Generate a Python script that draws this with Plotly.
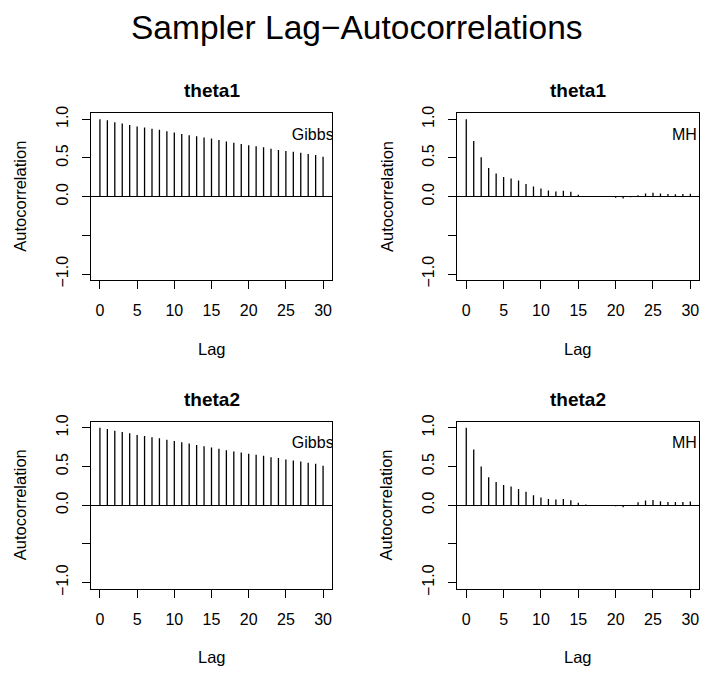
import plotly.graph_objects as go

lags = list(range(31))

gibbs_theta1 = [1.0, 0.987, 0.962, 0.944, 0.927, 0.906, 0.893, 0.879, 0.863, 0.846,
                0.830, 0.811, 0.795, 0.780, 0.765, 0.750, 0.731, 0.714, 0.697, 0.680,
                0.663, 0.650, 0.637, 0.620, 0.604, 0.590, 0.580, 0.567, 0.550, 0.537, 0.517]
mh_theta1 = [1.0, 0.72, 0.51, 0.37, 0.30, 0.255, 0.235, 0.21, 0.165, 0.13,
             0.105, 0.08, 0.068, 0.076, 0.064, 0.025, 0.004, 0.002, 0.0, -0.005,
             -0.015, -0.025, -0.008, 0.017, 0.042, 0.05, 0.042, 0.034, 0.03, 0.034, 0.038]
gibbs_theta2 = [1.0, 0.983, 0.962, 0.945, 0.928, 0.906, 0.894, 0.877, 0.864, 0.847,
                0.830, 0.813, 0.796, 0.779, 0.762, 0.745, 0.728, 0.711, 0.694, 0.681,
                0.664, 0.651, 0.638, 0.621, 0.609, 0.591, 0.579, 0.566, 0.549, 0.536, 0.511]
mh_theta2 = [1.0, 0.72, 0.50, 0.36, 0.30, 0.26, 0.24, 0.21, 0.175, 0.127,
             0.098, 0.08, 0.072, 0.08, 0.064, 0.03, 0.008, 0.004, 0.0, -0.004,
             -0.013, -0.025, -0.008, 0.038, 0.06, 0.068, 0.05, 0.042, 0.042, 0.042, 0.047]

panel_titles = ["theta1", "theta1", "theta2", "theta2"]
panel_labels = ["Gibbs", "MH", "Gibbs", "MH"]
panel_series = [gibbs_theta1, mh_theta1, gibbs_theta2, mh_theta2]
label_pos = [(25.8, 0.79), (27.55, 0.79), (25.8, 0.79), (27.55, 0.79)]
main_title = "Sampler Lag\u2212Autocorrelations"
x_ticks = [0, 5, 10, 15, 20, 25, 30]
y_ticks = [-1.0, -0.5, 0.0, 0.5, 1.0]
y_ticktext = ["\u22121.0", "", "0.0", "0.5", "1.0"]

W, H = 702, 681
FONT = "Liberation Sans, Arial, Helvetica, sans-serif"

# panel boxes in pixels (left, right, top, bottom)
boxes = [(91, 332, 108.3, 279), (457.3, 699.3, 108.3, 279),
         (91, 332, 423.3, 594), (457.3, 699.3, 423.3, 594)]

fig = go.Figure()
annotations = []
for i, (series, box) in enumerate(zip(panel_series, boxes)):
    n = i + 1
    xa = "x" if n == 1 else f"x{n}"
    ya = "y" if n == 1 else f"y{n}"
    xs, ys = [], []
    for lag, v in zip(lags, series):
        xs += [lag, lag, None]
        ys += [0, v, None]
    fig.add_trace(go.Scatter(x=xs, y=ys, mode="lines", xaxis=xa, yaxis=ya,
                             line=dict(color="black", width=1.3), hoverinfo="skip",
                             showlegend=False))
    lx, ly = label_pos[i]
    fig.add_trace(go.Scatter(x=[lx], y=[ly], mode="text", text=[panel_labels[i]],
                             textposition="middle right", cliponaxis=True,
                             textfont=dict(family=FONT, size=16, color="black"),
                             xaxis=xa, yaxis=ya, showlegend=False, hoverinfo="skip"))
    l, r, t, b = box
    dom_x = [l / W, r / W]
    dom_y = [1 - b / H, 1 - t / H]
    axis_common = dict(showgrid=False, showline=True, linecolor="black", linewidth=1,
                       mirror=True, ticks="outside", ticklen=8, tickcolor="black",
                       tickwidth=1, tickfont=dict(family=FONT, size=16, color="black"))
    fig.update_layout(**{
        ("xaxis" if n == 1 else f"xaxis{n}"): dict(
            domain=dom_x, range=[-1.2, 31.2], tickvals=x_ticks, zeroline=False,
            anchor=ya, ticklabelstandoff=8, **axis_common),
        ("yaxis" if n == 1 else f"yaxis{n}"): dict(
            domain=dom_y, range=[-1.08, 1.08], tickvals=y_ticks, ticktext=y_ticktext,
            tickangle=-90, zeroline=True, zerolinecolor="black", zerolinewidth=1,
            anchor=xa, ticklabelstandoff=8, **axis_common),
    })
    cx = (l + r) / 2
    annotations.append(dict(text=f"<b>{panel_titles[i]}</b>", x=cx / W, y=1 - (t - 23) / H,
                            xref="paper", yref="paper", showarrow=False,
                            font=dict(family=FONT, size=19, color="black"),
                            xanchor="center", yanchor="middle"))
    annotations.append(dict(text="Lag", x=cx / W, y=1 - (b + 70) / H,
                            xref="paper", yref="paper", showarrow=False,
                            font=dict(family=FONT, size=16.5, color="black"),
                            xanchor="center", yanchor="middle"))
    annotations.append(dict(text="Autocorrelation", x=(l - 71) / W, y=1 - ((t + b) / 2) / H,
                            xref="paper", yref="paper", showarrow=False, textangle=-90,
                            font=dict(family=FONT, size=16.5, color="black"),
                            xanchor="center", yanchor="middle"))

annotations.append(dict(text=main_title, x=357 / W, y=1 - 21 / H, xref="paper", yref="paper",
                        showarrow=False, font=dict(family=FONT, size=33.5, color="black"),
                        xanchor="center", yanchor="middle"))

fig.update_layout(width=W, height=H, margin=dict(l=0, r=0, t=0, b=0),
                  paper_bgcolor="white", plot_bgcolor="white",
                  annotations=annotations, showlegend=False)

fig.write_html("out.html", config={"displayModeBar": False},
               post_script="document.body.style.margin='0';document.body.style.padding='0';")
